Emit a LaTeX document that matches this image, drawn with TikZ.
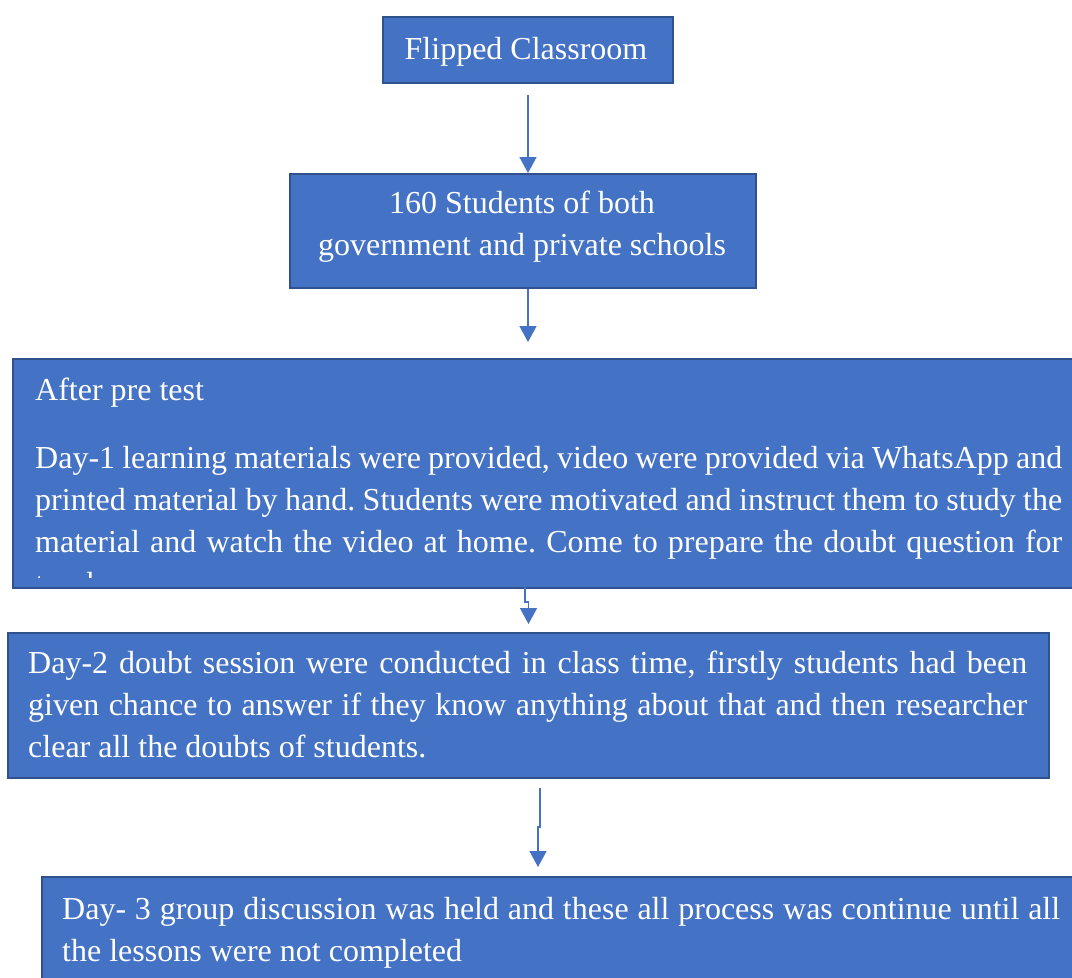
\documentclass[tikz,border=0pt]{standalone}
\usepackage{fontspec}
\setmainfont{Liberation Serif}
\usetikzlibrary{arrows.meta}

\definecolor{boxfill}{HTML}{4472C4}
\definecolor{boxedge}{HTML}{2F528F}
\definecolor{linkcol}{HTML}{4472C4}

% a stack of lines whose baseline is the first line
\newcommand\linesbox[2]{\vtop{\hsize=#1\relax #2}}
% a justified line, a line at its natural width, a centred line
\newcommand\fullline[1]{\hbox to \hsize{#1}}
\newcommand\lastline[1]{\hbox{#1}}
\newcommand\midline[1]{\hbox to \hsize{\hfil #1\hfil}}

\begin{document}
\frenchspacing
\begin{tikzpicture}[x=1pt,y=-1pt,
  stepbox/.style={draw=boxedge, fill=boxfill, line width=2pt, inner sep=0pt,
    anchor=north west},
  txt/.style={text=white, inner sep=0pt,
    font=\fontsize{32}{42}\selectfont\frenchspacing},
  arr/.style={draw=linkcol, line width=1.5pt,
    -{Triangle[width=17pt,length=16pt]}}]
\useasboundingbox (0,0) rectangle (1072,978);

% boxes
\node[stepbox, minimum width=290pt, minimum height=66pt] (b1) at (382,16) {};
\node[stepbox, minimum width=466pt, minimum height=114pt] (b2) at (289,173) {};
\node[stepbox, minimum width=1100pt, minimum height=229pt] (b3) at (12,358) {};
\node[stepbox, minimum width=1041pt, minimum height=145pt] (b4) at (7,632) {};
\node[stepbox, minimum width=1100pt, minimum height=200pt] (b5) at (41,876) {};

% texts
\node[txt, anchor=base] (t1) at (526,59) {Flipped Classroom};
\node[txt, anchor=base] (t2) at (522,213) {\linesbox{480pt}{%
  \midline{160 Students of both}%
  \midline{government and private schools}}};
\begin{scope}
  % the text area ends a little above the lower edge of the box
  \clip (b3.north west) rectangle ([yshift=12pt]b3.south east);
  \node[txt, anchor=base west] (t3) at (35,400) {\linesbox{1027pt}{%
    \lastline{After pre test}\vskip26pt
    \fullline{Day-1 learning materials were provided, video were provided via WhatsApp and}%
    \fullline{printed material by hand. Students were motivated and instruct them to study the}%
    \fullline{material and watch the video at home. Come to prepare the doubt question for}%
    \lastline{teacher}}};
\end{scope}
\node[txt, anchor=base west] (t4) at (28,673) {\linesbox{999pt}{%
  \fullline{Day-2 doubt session were conducted in class time, firstly students had been}%
  \fullline{given chance to answer if they know anything about that and then researcher}%
  \lastline{clear all the doubts of students.}}};
\node[txt, anchor=base west] (t5) at (62,919) {\linesbox{998pt}{%
  \fullline{Day- 3 group discussion was held and these all process was continue until all}%
  \lastline{the lessons were not completed}}};

% connectors
\coordinate (c2) at (b2.south -| b1.south);
\coordinate (a3) at (525,578);
\coordinate (a4) at (540,788);
\coordinate (a4e) at (538,875);
\draw[arr, shorten <=11pt] (b1.south) -- (b1.south |- b2.north);
\draw[arr, shorten >=16pt] (c2) -- (c2 |- b3.north);
\draw[arr, shorten >=8pt] (a3) -- ++(0,24) -| (b4.north);
\draw[arr, shorten >=8pt] (a4) -- ++(0,39) -| (a4e);
\end{tikzpicture}
\end{document}
